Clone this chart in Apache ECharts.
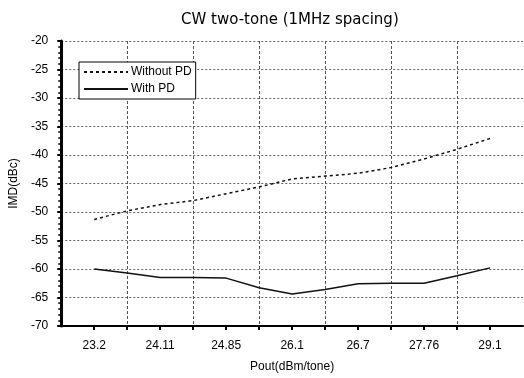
<!DOCTYPE html>
<html><head><meta charset="utf-8">
<script src="https://cdn.jsdelivr.net/npm/echarts@6/dist/echarts.min.js"></script>
<style>html,body{margin:0;padding:0;background:#fff}#c{width:524px;height:378px}</style>
</head><body><div id="c"></div>
<script>
// Tick labels on the x axis (Pout, dBm/tone)
var tickLabels = ['23.2', '24.11', '24.85', '26.1', '26.7', '27.76', '29.1'];
// Series sampled at each label and midway between labels (13 points)
var withoutPD = [-51.3, -49.8, -48.7, -48.0, -46.8, -45.6, -44.2, -43.7, -43.2, -42.2, -40.7, -39.0, -37.1];
var withPD    = [-60.0, -60.7, -61.5, -61.5, -61.6, -63.3, -64.4, -63.6, -62.6, -62.5, -62.5, -61.2, -59.8];
var yTicks = {min: -70, max: -20, step: 5};

// Build half-step category slots: '', label, '', label, ..., label, ''
var slots = [''];
tickLabels.forEach(function (t, i) { slots.push(t); slots.push(''); });
function pad(arr) { return [null].concat(arr, [null]); }

var chart = echarts.init(document.getElementById('c'));
var font = 'Liberation Sans, Arial, sans-serif';
chart.setOption({
  animation: false,
  title: {
    text: 'CW two-tone (1MHz spacing)',
    left: 176, top: 8,
    textStyle: {fontSize: 15, fontWeight: 'normal', color: '#000', fontFamily: 'DejaVu Sans'}
  },
  grid: {left: 57, right: 1, top: 41, bottom: 50, containLabel: false},
  legend: {
    left: 79, top: 62, orient: 'vertical',
    backgroundColor: '#fff', borderColor: '#000', borderWidth: 1,
    padding: [4, 4, 4, 4], itemGap: 5, itemWidth: 44, itemHeight: 12,
    itemStyle: {opacity: 0},
    textStyle: {fontSize: 12, color: '#000', fontFamily: font, padding: [0, 0, 0, -2]},
    data: ['Without PD', 'With PD']
  },
  xAxis: {
    type: 'category', data: slots, boundaryGap: false,
    name: 'Pout(dBm/tone)', nameLocation: 'middle', nameGap: 35,
    nameTextStyle: {fontSize: 12, color: '#000', fontFamily: font},
    axisLine: {lineStyle: {color: '#000', width: 2}},
    axisTick: {show: true, interval: function (i) { return i > 0 && i < slots.length - 1; }, length: 4, lineStyle: {color: '#000', width: 2}},
    axisLabel: {interval: function (i) { return i % 2 === 1; }, fontSize: 12, color: '#000', fontFamily: font, margin: 14},
    splitLine: {show: true, interval: function (i) { return i % 2 === 0 && i > 0 && i < slots.length - 1; }, lineStyle: {color: '#555', type: [3, 2], width: 1}}
  },
  yAxis: {
    type: 'value', min: yTicks.min, max: yTicks.max, interval: yTicks.step,
    name: 'IMD(dBc)', nameLocation: 'middle', nameGap: 41,
    nameTextStyle: {fontSize: 12, color: '#000', fontFamily: font},
    axisLine: {show: true, lineStyle: {color: '#000', width: 3}},
    axisTick: {show: true, length: 4, lineStyle: {color: '#000', width: 2}},
    minorTick: {show: true, splitNumber: 5, length: 3, lineStyle: {color: '#000', width: 1.5}},
    axisLabel: {fontSize: 12, color: '#000', fontFamily: font, margin: 13},
    splitLine: {show: true, lineStyle: {color: '#666', type: [2, 2], width: 1}}
  },
  series: [
    {name: 'Without PD', type: 'line', data: pad(withoutPD), symbol: 'none', connectNulls: false,
     lineStyle: {color: '#111', width: 1.5, type: [3, 3]}, itemStyle: {color: '#111'}},
    {name: 'With PD', type: 'line', data: pad(withPD), symbol: 'none', connectNulls: false,
     lineStyle: {color: '#111', width: 1.5}, itemStyle: {color: '#111'}}
  ]
});
</script></body></html>
